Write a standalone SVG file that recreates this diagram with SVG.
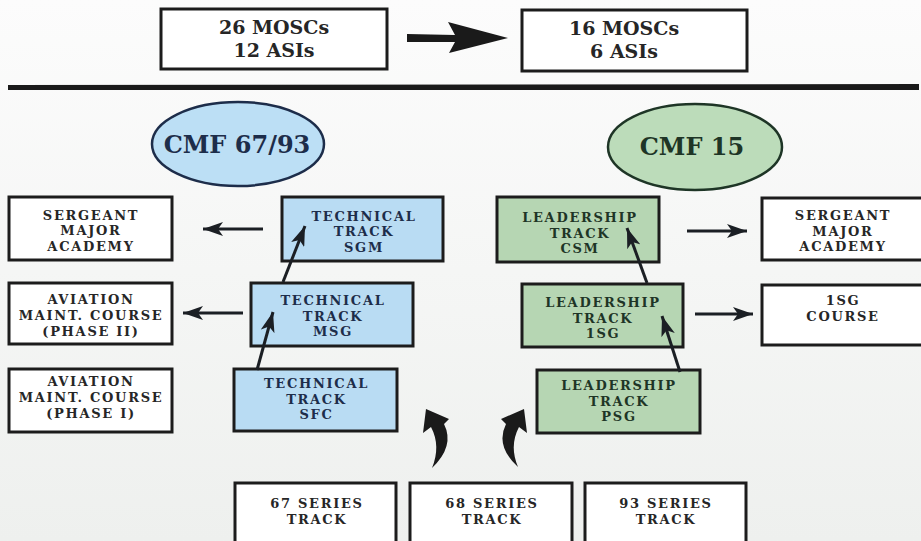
<svg xmlns="http://www.w3.org/2000/svg" width="921" height="541" viewBox="0 0 921 541">
<defs>
<linearGradient id="bg" x1="0" y1="0" x2="0" y2="1">
<stop offset="0" stop-color="#fcfcfc"/>
<stop offset="0.5" stop-color="#f5f6f5"/>
<stop offset="1" stop-color="#eef0ee"/>
</linearGradient>
<marker id="ah" markerUnits="userSpaceOnUse" markerWidth="22" markerHeight="14" refX="20" refY="7" orient="auto">
<path d="M0,0 L20,7 L0,14 L5,7 Z" fill="#1b1f24"/>
</marker>
</defs>
<style>
.box{stroke:#1c1c1c;stroke-width:3;}
.white{fill:#ffffff;}
.blue{fill:#b9dcf3;}
.green{fill:#b6d6b3;}
text{font-family:"DejaVu Serif","Liberation Serif",serif;font-weight:bold;text-anchor:middle;}
.t{font-size:13px;letter-spacing:1.7px;}
.tw{fill:#262626;}
.tb{fill:#1d2d4a;}
.tg{fill:#1e3526;}
.top{font-size:19px;fill:#262626;}
.ell{font-size:24px;}
.conn{stroke:#1b1f24;stroke-width:3;fill:none;marker-end:url(#ah);}
</style>
<rect x="0" y="0" width="921" height="541" fill="url(#bg)"/>
<path d="M8,85 L919,84 L919,90 L8,90 Z" fill="#1a1a1a"/>

<g id="top-before">
<rect class="box white" x="161" y="9" width="226" height="60"/>
<text class="top" x="274" y="34">26 MOSCs</text>
<text class="top" x="274" y="57">12 ASIs</text>
</g>
<g id="top-after">
<rect class="box white" x="522" y="10" width="225" height="61"/>
<text class="top" x="624" y="35">16 MOSCs</text>
<text class="top" x="624" y="58">6 ASIs</text>
</g>

<g id="cmf6793">
<ellipse cx="238" cy="144" rx="86" ry="42" fill="#bcdff5" stroke="#1d2d4a" stroke-width="2.5"/>
<text class="ell tb" x="237" y="153">CMF 67/93</text>
</g>
<g id="cmf15">
<ellipse cx="695" cy="147" rx="87" ry="43" fill="#bcdcba" stroke="#1e3526" stroke-width="2.5"/>
<text class="ell tg" x="692" y="155">CMF 15</text>
</g>

<g id="sma-left">
<rect class="box white" x="9" y="197" width="163" height="63"/>
<text class="t tw" x="91" y="219.5">SERGEANT</text>
<text class="t tw" x="91" y="235">MAJOR</text>
<text class="t tw" x="91" y="250.5">ACADEMY</text>
</g>
<g id="amc-phase2">
<rect class="box white" x="9" y="283" width="163" height="61"/>
<text class="t tw" x="91" y="304">AVIATION</text>
<text class="t tw" x="91" y="320">MAINT. COURSE</text>
<text class="t tw" x="91" y="335.5">(PHASE II)</text>
</g>
<g id="amc-phase1">
<rect class="box white" x="9" y="369" width="163" height="63"/>
<text class="t tw" x="91" y="386">AVIATION</text>
<text class="t tw" x="91" y="402">MAINT. COURSE</text>
<text class="t tw" x="91" y="417.5">(PHASE I)</text>
</g>

<g id="tech-sgm">
<rect class="box blue" x="282" y="197" width="161" height="64"/>
<text class="t tb" x="364" y="220.5">TECHNICAL</text>
<text class="t tb" x="364" y="236">TRACK</text>
<text class="t tb" x="364" y="251.5">SGM</text>
</g>
<g id="tech-msg">
<rect class="box blue" x="251" y="283" width="162" height="63"/>
<text class="t tb" x="333" y="305">TECHNICAL</text>
<text class="t tb" x="333" y="320.5">TRACK</text>
<text class="t tb" x="333" y="336">MSG</text>
</g>
<g id="tech-sfc">
<rect class="box blue" x="234" y="369" width="163" height="62"/>
<text class="t tb" x="316.5" y="388">TECHNICAL</text>
<text class="t tb" x="316.5" y="403.5">TRACK</text>
<text class="t tb" x="316.5" y="419">SFC</text>
</g>

<g id="lead-csm">
<rect class="box green" x="497" y="197" width="162" height="65"/>
<text class="t tg" x="580" y="222">LEADERSHIP</text>
<text class="t tg" x="580" y="237.5">TRACK</text>
<text class="t tg" x="580" y="253">CSM</text>
</g>
<g id="lead-1sg">
<rect class="box green" x="522" y="284" width="161" height="63"/>
<text class="t tg" x="603" y="307">LEADERSHIP</text>
<text class="t tg" x="603" y="322.5">TRACK</text>
<text class="t tg" x="603" y="338">1SG</text>
</g>
<g id="lead-psg">
<rect class="box green" x="537" y="370" width="163" height="63"/>
<text class="t tg" x="619" y="390">LEADERSHIP</text>
<text class="t tg" x="619" y="405.5">TRACK</text>
<text class="t tg" x="619" y="421">PSG</text>
</g>

<g id="sma-right">
<rect class="box white" x="762" y="198" width="162" height="62"/>
<text class="t tw" x="843" y="220">SERGEANT</text>
<text class="t tw" x="843" y="235.5">MAJOR</text>
<text class="t tw" x="843" y="251">ACADEMY</text>
</g>
<g id="first-sergeant-course">
<rect class="box white" x="762" y="285" width="162" height="60"/>
<text class="t tw" x="843" y="305">1SG</text>
<text class="t tw" x="843" y="321">COURSE</text>
</g>

<g id="series-67">
<rect class="box white" x="235" y="483" width="161" height="70"/>
<text class="t tw" x="317" y="508">67 SERIES</text>
<text class="t tw" x="317" y="523.5">TRACK</text>
</g>
<g id="series-68">
<rect class="box white" x="410" y="483" width="162" height="70"/>
<text class="t tw" x="492" y="508">68 SERIES</text>
<text class="t tw" x="492" y="523.5">TRACK</text>
</g>
<g id="series-93">
<rect class="box white" x="585" y="483" width="161" height="70"/>
<text class="t tw" x="666" y="508">93 SERIES</text>
<text class="t tw" x="666" y="523.5">TRACK</text>
</g>

<g id="connectors">
<path d="M407,34 L455,35 L448,22 L508,38 L449,53 L455,42 L407,42 Z" fill="#1a1a1a"/>
<line class="conn" x1="263" y1="229" x2="203" y2="229"/>
<line class="conn" x1="243" y1="313" x2="183" y2="313"/>
<line class="conn" x1="687" y1="231" x2="747" y2="231"/>
<line class="conn" x1="695" y1="314" x2="753" y2="314"/>
<line class="conn" x1="283" y1="282" x2="305" y2="226"/>
<line class="conn" x1="257" y1="370" x2="273" y2="312"/>
<line class="conn" x1="647" y1="283" x2="627" y2="228"/>
<line class="conn" x1="680" y1="372" x2="662" y2="316"/>
<path d="M432,468 Q455,446 444,424 L449,419 L426,409 L423,433 L431,427 Q441,446 432,468 Z" fill="#1a1a1a"/>
<path d="M518,467 Q495,446 506,424 L501,419 L524,409 L527,433 L519,427 Q509,446 518,467 Z" fill="#1a1a1a"/>
</g>
</svg>
